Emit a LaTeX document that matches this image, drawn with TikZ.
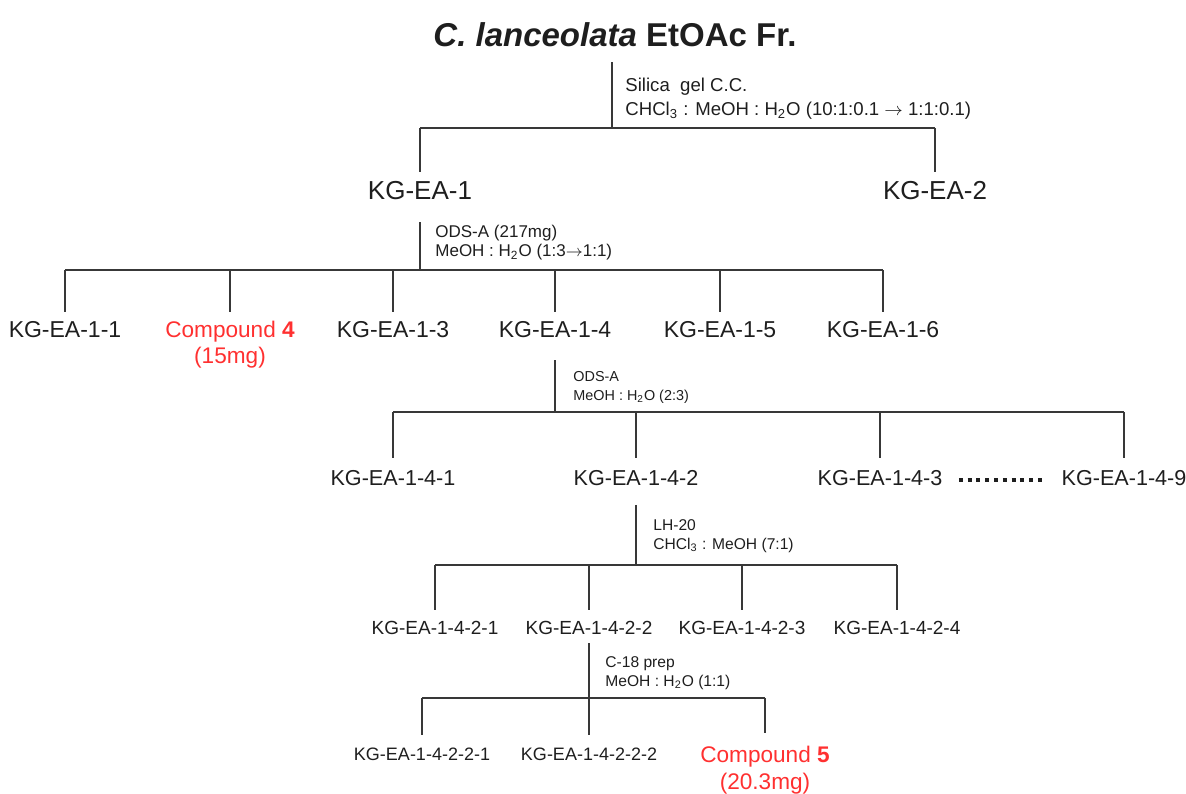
\documentclass[tikz,border=0pt]{standalone}
\usepackage{fontspec}
\setmainfont{Liberation Sans}
\usetikzlibrary{positioning}
\definecolor{inkline}{HTML}{383838}
\definecolor{inktext}{HTML}{1E1E1E}
\definecolor{cpdred}{HTML}{FF3030}
\tikzset{
  frac/.style={inner sep=0pt, text depth=0pt, text=inktext},
  headline/.style={frac, font=\bfseries\fontsize{16.5}{18}\selectfont},
  lv0/.style={frac, font=\fontsize{13}{15}\selectfont},
  lv1/.style={frac, font=\fontsize{11.5}{13}\selectfont},
  lv2/.style={frac, font=\fontsize{10.8}{13}\selectfont},
  lv3/.style={frac, font=\fontsize{9.5}{11}\selectfont},
  lv4/.style={frac, font=\fontsize{9}{11}\selectfont},
  cpd/.style={frac, text=cpdred, font=\fontsize{11.3}{13}\selectfont},
  cond/.style={anchor=west, inner sep=0pt, align=left, text=inktext},
  branch/.style={draw=inkline, line width=0.75pt},
}
\begin{document}
\begin{tikzpicture}[x=0.5pt,y=-0.5pt]
    \useasboundingbox (0,0) rectangle (1186,793);
    % fraction
    \node[headline] (top) at (615,35) {\textit{C. lanceolata} EtOAc Fr.};
    \node[cond, font=\fontsize{9.3}{12}\selectfont] (c0) at (625,99)
        {Silica\ \ gel C.C.\\CHCl\textsubscript{3} : MeOH : H\textsubscript{2}O (10:1:0.1 $\rightarrow$ 1:1:0.1)};
    \coordinate (bar0) at (612,128);
    \node[lv0] (ea1) at (420,190) {KG-EA-1};
    \node[lv0] (ea2) at (935,190) {KG-EA-2};
    \draw[branch, shorten <=7.5pt] (bar0 |- top.south) -- (bar0);
    \draw[branch] (ea1 |- bar0) -- (ea2 |- bar0);
    \foreach \n in {ea1,ea2} \draw[branch, shorten >=4.3pt] (\n |- bar0) -- (\n.north);

    % KG-EA-1
    \node[cond, font=\fontsize{8.5}{9.5}\selectfont] (c1) at (435,242.5)
        {ODS-A (217mg)\\MeOH : H\textsubscript{2}O (1:3$\rightarrow$1:1)};
    \coordinate (bar1) at (420,270);
    \node[lv1] (e11) at (65,329) {KG-EA-1-1};
    \node[cpd] (cpd4) at (230,329) {Compound \textbf{4}};
    \node[cpd, below=4.6pt of cpd4] (m4) {(15mg)};
    \node[lv1] (e13) at (393,329) {KG-EA-1-3};
    \node[lv1] (e14) at (555,329) {KG-EA-1-4};
    \node[lv1] (e15) at (720,329) {KG-EA-1-5};
    \node[lv1] (e16) at (883,329) {KG-EA-1-6};
    \draw[branch, shorten <=11.3pt] (ea1.south) -- (bar1);
    \draw[branch] (e11 |- bar1) -- (e16 |- bar1);
    \foreach \n in {e11,cpd4,e13,e14,e15,e16} \draw[branch, shorten >=4.4pt] (\n |- bar1) -- (\n.north);

    % KG-EA-1-4
    \node[cond, font=\fontsize{7.2}{9.5}\selectfont] (c2) at (573,387.5)
        {ODS-A\\MeOH : H\textsubscript{2}O (2:3)};
    \coordinate (bar2) at (555,412);
    \node[lv2] (f1) at (393,478) {KG-EA-1-4-1};
    \node[lv2] (f2) at (636,478) {KG-EA-1-4-2};
    \node[lv2] (f3) at (880,478) {KG-EA-1-4-3};
    \node[lv2] (f9) at (1124,478) {KG-EA-1-4-9};
    \draw[branch, shorten <=11.3pt] (e14.south) -- (bar2);
    \draw[branch] (f1 |- bar2) -- (f9 |- bar2);
    \foreach \n in {f1,f2,f3,f9} \draw[branch, shorten >=6pt] (\n |- bar2) -- (\n.north);
    \draw[inktext, line width=2pt, dash pattern=on 2pt off 2.4pt, shorten <=8pt, shorten >=7.5pt]
        ([yshift=-1pt]f3.east) -- ([yshift=-1pt]f9.west);

    % KG-EA-1-4-2
    \node[cond, font=\fontsize{7.8}{9.5}\selectfont] (c3) at (653,536.5)
        {LH-20\\CHCl\textsubscript{3} : MeOH (7:1)};
    \coordinate (bar3) at (636,565);
    \node[lv3] (g1) at (435,628) {KG-EA-1-4-2-1};
    \node[lv3] (g2) at (589,628) {KG-EA-1-4-2-2};
    \node[lv3] (g3) at (742,628) {KG-EA-1-4-2-3};
    \node[lv3] (g4) at (897,628) {KG-EA-1-4-2-4};
    \draw[branch, shorten <=9.5pt] (f2.south) -- (bar3);
    \draw[branch] (g1 |- bar3) -- (g4 |- bar3);
    \foreach \n in {g1,g2,g3,g4} \draw[branch, shorten >=5.5pt] (\n |- bar3) -- (\n.north);

    % KG-EA-1-4-2-2
    \node[cond, font=\fontsize{7.8}{9.5}\selectfont] (c4) at (605,673.5)
        {C-18 prep\\MeOH : H\textsubscript{2}O (1:1)};
    \coordinate (bar4) at (589,698);
    \node[lv4] (h1) at (422,754) {KG-EA-1-4-2-2-1};
    \node[lv4] (h2) at (589,754) {KG-EA-1-4-2-2-2};
    \node[cpd] (cpd5) at (765,754) {Compound \textbf{5}};
    \node[cpd, below=5pt of cpd5] (m5) {(20.3mg)};
    \draw[branch, shorten <=4pt] (g2.south) -- (bar4);
    \draw[branch] (h1 |- bar4) -- (cpd5 |- bar4);
    \foreach \n in {h1,h2,cpd5} \draw[branch, shorten >=6pt] (\n |- bar4) -- (\n.north);
\end{tikzpicture}
\end{document}
